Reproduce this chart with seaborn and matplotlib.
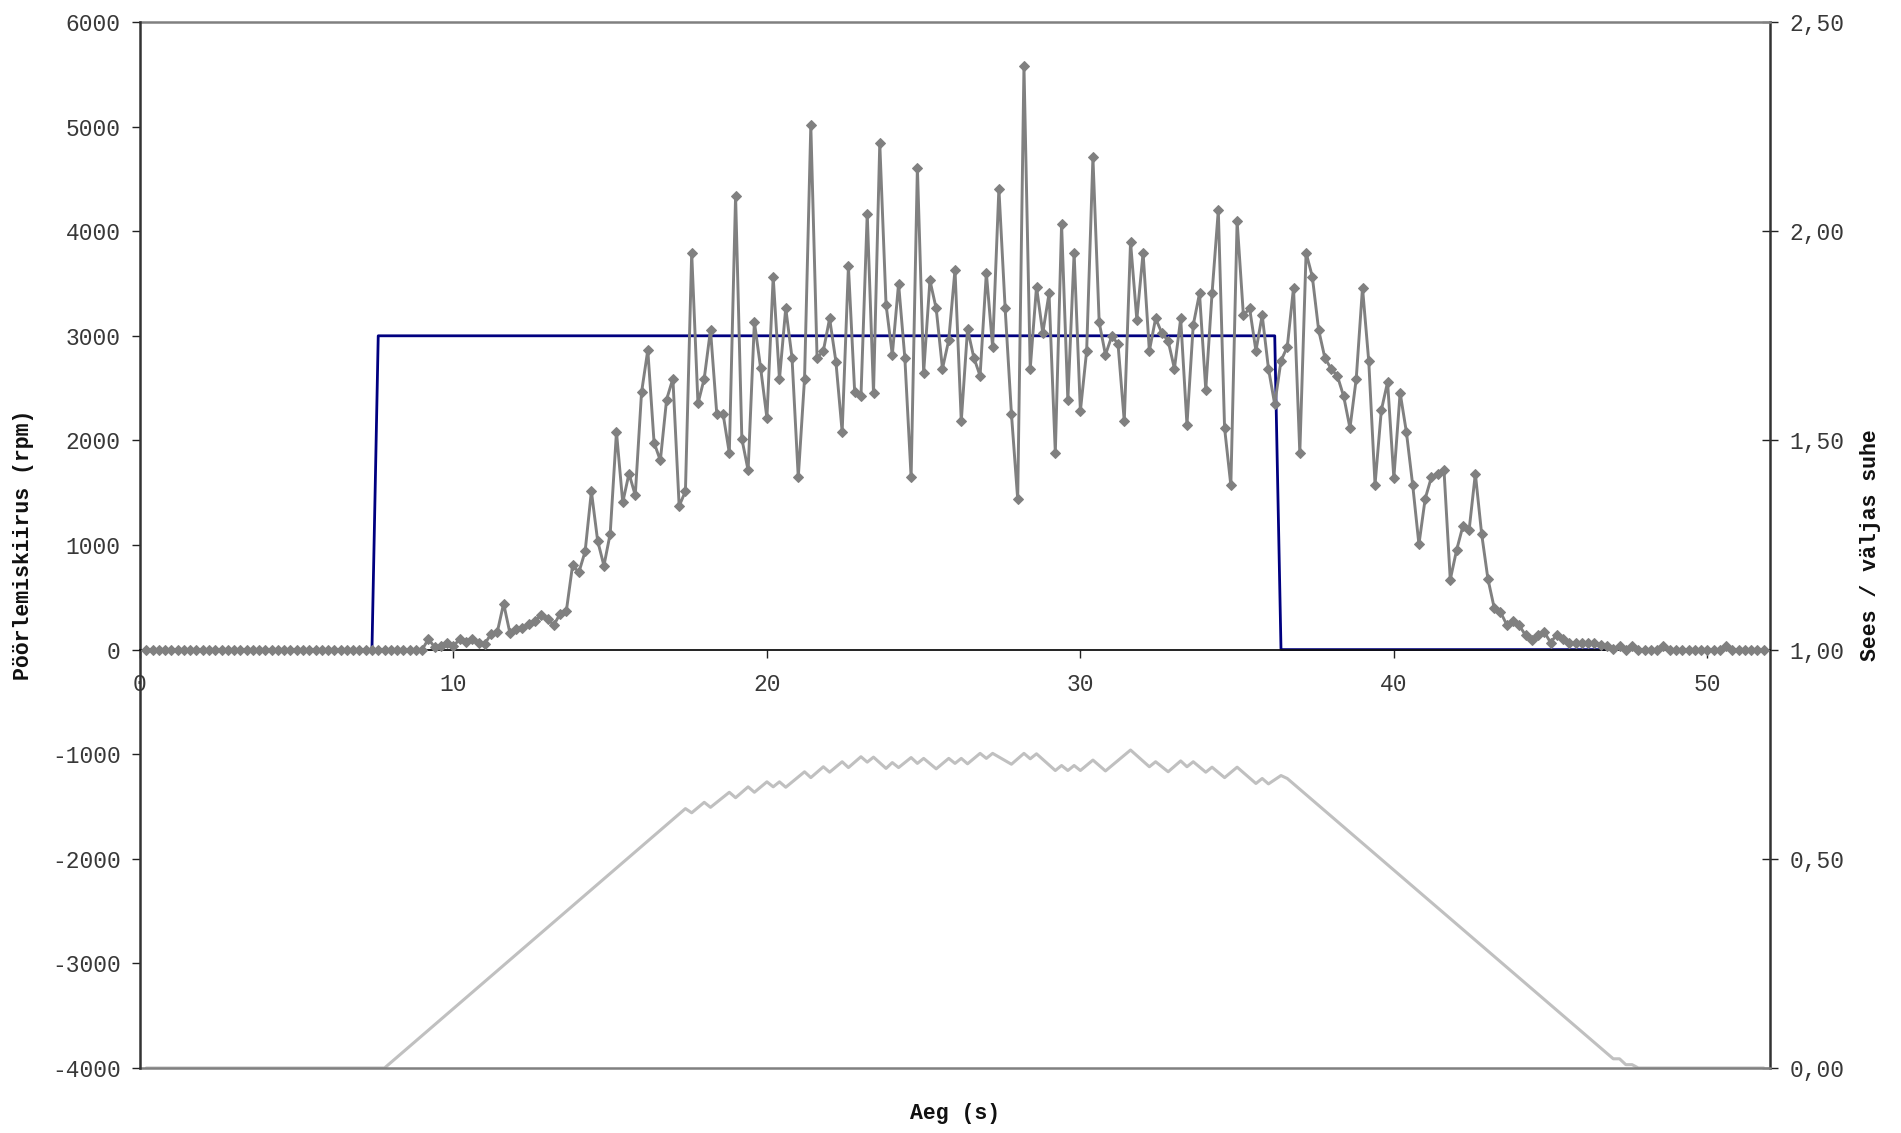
import numpy as np
import pandas as pd
import matplotlib
matplotlib.use("Agg")
import matplotlib.pyplot as plt
import seaborn as sns
from matplotlib.ticker import FuncFormatter, FixedLocator

# ---------------- data ----------------
# rpm samples every 0.2 s, starting at t = 0.2 s
rpm_zero_start = [0, 0, 0, 0, 0, 0, 0, 0, 0, 0,   # 0.2 - 2.0
                  0, 0, 0, 0, 0, 0, 0, 0, 0, 0,   # 2.2 - 4.0
                  0, 0, 0, 0, 0, 0, 0, 0, 0, 0,   # 4.2 - 6.0
                  0, 0, 0, 0, 0, 0, 0, 0, 0, 0,   # 6.2 - 8.0
                  0, 0, 0, 0, 0]                  # 8.2 - 9.0
rpm_values = [100, 25, 35, 65, 35, 100, 70, 100, 60, 55,            # 9.2 - 11.0
              150, 170, 440, 160, 200, 210, 240, 270, 335, 295,      # 11.2 - 13.0
              235, 340, 367, 806, 738, 938, 1513, 1040, 802, 1108,   # 13.2 - 15.0
              2081, 1407, 1683, 1475, 2459, 2864, 1978, 1808, 2391, 2591,  # 15.2 - 17.0
              1373, 1513, 3794, 2353, 2591, 3057, 2255, 2255, 1880, 4339,  # 17.2 - 19.0
              2016, 1714, 3132, 2690, 2213, 3564, 2584, 3265, 2792, 1646,  # 19.2 - 21.0
              2591, 5013, 2788, 2856, 3166, 2754, 2081, 3666, 2459, 2421,  # 21.2 - 23.0
              4169, 2451, 4842, 3299, 2818, 3499, 2788, 1646, 4608, 2648,  # 23.2 - 25.0
              3530, 3261, 2686, 2958, 3632, 2183, 3064, 2792, 2618, 3601,  # 25.2 - 27.0
              2894, 4407, 3261, 2255, 1438, 5580, 2686, 3469, 3026, 3405,  # 27.2 - 29.0
              1880, 4067, 2383, 3794, 2281, 2856, 4706, 3129, 2818, 2996,  # 29.2 - 31.0
              2924, 2183, 3897, 3155, 3794, 2856, 3166, 3026, 2951, 2686,  # 31.2 - 33.0
              3166, 2149, 3102, 3405, 2485, 3405, 4199, 2118, 1570, 4097,  # 33.2 - 35.0
              3197, 3261, 2856, 3197, 2686, 2345, 2762, 2894, 3461, 1880,  # 35.2 - 37.0
              3794, 3564, 3057, 2788, 2685, 2615, 2421, 2118, 2589, 3460,  # 37.2 - 39.0
              2755, 1577, 2287, 2558, 1640, 2456, 2080, 1577, 1006, 1443,  # 39.2 - 41.0
              1650, 1682, 1714, 669, 949, 1178, 1140, 1682, 1108, 678,     # 41.2 - 43.0
              401, 360, 239, 274, 232, 137, 96, 137, 169, 67,              # 43.2 - 45.0
              143, 99, 67, 67, 67, 67, 60, 40, 30, 10,                     # 45.2 - 47.0
              30, 0, 30, 0, 0, 0, 0, 30, 0, 0,                             # 47.2 - 49.0
              0, 0, 0, 0, 0, 0, 0, 30, 0, 0,                               # 49.2 - 51.0
              0, 0, 0, 0]                                                  # 51.2 - 51.8
rpm = rpm_zero_start + rpm_values
time_s = np.round(0.2 * np.arange(1, len(rpm) + 1), 1)

# set-point (on/off) signal, left axis
setpoint_time = [0.2, 7.4, 7.6, 36.2, 36.4, 51.8]
setpoint_rpm = [0, 0, 3000, 3000, 0, 0]

# on/off ratio, right axis (vertices of the line)
ratio_time = [0.2, 7.8, 17.4, 17.6, 18.0, 18.2, 18.8, 19.0, 19.4, 19.6, 20.0, 20.2,
              20.4, 20.6, 21.2, 21.4, 21.8, 22.0, 22.4, 22.6, 23.0, 23.2, 23.4,
              23.8, 24.0, 24.2, 24.6, 24.8, 25.0, 25.4, 25.8, 26.0, 26.2, 26.4,
              26.8, 27.0, 27.2, 27.8, 28.2, 28.4, 28.6, 29.2, 29.4, 29.6, 29.8,
              30.0, 30.4, 30.8, 31.6, 32.2, 32.4, 32.8, 33.2, 33.4, 33.6, 34.0,
              34.2, 34.6, 35.0, 35.6, 35.8, 36.0, 36.4, 36.6, 47.0, 47.2, 47.4,
              47.6, 47.8, 51.8]
ratio_value = [0.0, 0.0, 0.620, 0.610, 0.635, 0.623, 0.659, 0.646, 0.672, 0.659,
               0.684, 0.672, 0.684, 0.671, 0.708, 0.694, 0.720, 0.707, 0.732,
               0.718, 0.744, 0.731, 0.743, 0.716, 0.730, 0.718, 0.742, 0.728,
               0.740, 0.715, 0.740, 0.728, 0.740, 0.727, 0.752, 0.740, 0.752,
               0.726, 0.752, 0.739, 0.751, 0.711, 0.723, 0.711, 0.723, 0.711,
               0.736, 0.710, 0.760, 0.720, 0.732, 0.708, 0.734, 0.720, 0.732,
               0.707, 0.719, 0.694, 0.719, 0.680, 0.692, 0.679, 0.699, 0.692,
               0.022, 0.022, 0.008, 0.008, 0.0, 0.0]

x_ticks = [0, 10, 20, 30, 40, 50]
left_ticks = [-4000, -3000, -2000, -1000, 0, 1000, 2000, 3000, 4000, 5000, 6000]
right_ticks = [0.0, 0.5, 1.0, 1.5, 2.0, 2.5]

x_label = "Aeg (s)"
left_label = "Pöörlemiskiirus (rpm)"
right_label = "Sees / väljas suhe"

# ---------------- style ----------------
sns.set_theme(style="white")
plt.rcParams["font.family"] = ["Liberation Mono", "DejaVu Sans Mono", "DejaVu Sans"]

W, H = 1901, 1133
fig = plt.figure(figsize=(W / 100, H / 100), dpi=100)
L, R, T, B = 140, 1770, 22, 1068
ax = fig.add_axes([L / W, 1 - B / H, (R - L) / W, (B - T) / H])
ax2 = ax.twinx()
ax2.set_zorder(ax.get_zorder() - 1)
ax.patch.set_visible(False)

df_rpm = pd.DataFrame({"t": time_s, "rpm": rpm})
df_set = pd.DataFrame({"t": setpoint_time, "v": setpoint_rpm})
df_ratio = pd.DataFrame({"t": ratio_time, "v": ratio_value})

sns.lineplot(data=df_ratio, x="t", y="v", ax=ax2, color="#c0c0c0", lw=2.2,
             estimator=None, sort=False)
sns.lineplot(data=df_set, x="t", y="v", ax=ax, color="#000080", lw=2.0,
             estimator=None, sort=False, zorder=2)
sns.lineplot(data=df_rpm, x="t", y="rpm", ax=ax, color="#808080", lw=2.1,
             marker="D", markersize=5.0, markeredgecolor="#808080",
             markerfacecolor="#808080", estimator=None, sort=False, zorder=3)

ax.set_xlim(0, 52)
ax.set_ylim(-4000, 6000)
ax2.set_ylim(0, 2.5)

ax.xaxis.set_major_locator(FixedLocator(x_ticks))
ax.yaxis.set_major_locator(FixedLocator(left_ticks))
ax2.yaxis.set_major_locator(FixedLocator(right_ticks))
ax2.yaxis.set_major_formatter(FuncFormatter(lambda v, _: f"{v:.2f}".replace(".", ",")))
ax.yaxis.set_major_formatter(FuncFormatter(lambda v, _: f"{int(v)}"))

tick_color = "#383838"
ax.tick_params(axis="x", direction="out", length=6, width=1.0, color="#222222",
               labelsize=16.5, labelcolor=tick_color, pad=11, bottom=True)
ax.tick_params(axis="y", direction="out", length=6, width=1.0, color="#222222",
               labelsize=16.5, labelcolor=tick_color, pad=8, left=True)
ax2.tick_params(axis="y", direction="inout", length=12, width=1.0, color="#222222",
                labelsize=16.5, labelcolor=tick_color, pad=8, right=True)

# spines
for s in ["top", "right"]:
    ax.spines[s].set_visible(False)
ax.spines["bottom"].set_position(("data", 0))
ax.spines["bottom"].set_color("#111111")
ax.spines["bottom"].set_linewidth(1.3)
ax.spines["left"].set_color("#333333")
ax.spines["left"].set_linewidth(1.8)
ax2.spines["left"].set_visible(False)
ax2.spines["right"].set_color("#333333")
ax2.spines["right"].set_linewidth(1.8)
ax2.spines["top"].set_color("#808080")
ax2.spines["top"].set_linewidth(1.8)
ax2.spines["bottom"].set_color("#808080")
ax2.spines["bottom"].set_linewidth(1.8)

# labels
lab_font = dict(fontsize=15.5, fontweight="bold", color="#111111")
ax.set_xlabel(x_label, **lab_font)
ax.set_ylabel(left_label, **lab_font)
ax2.set_ylabel(right_label, **lab_font)
ax.xaxis.set_label_coords((955 - L) / (R - L), (B - 1114) / (B - T))
ax.xaxis.label.set_va("center")
ax.yaxis.set_label_coords((24 - L) / (R - L), 0.5)
ax.yaxis.label.set_va("center")
ax2.yaxis.set_label_coords((1870 - L) / (R - L), 0.5)
ax2.yaxis.label.set_va("center")
ax2.yaxis.label.set_rotation(90)

fig.savefig("out.png", dpi=100, facecolor="white")
